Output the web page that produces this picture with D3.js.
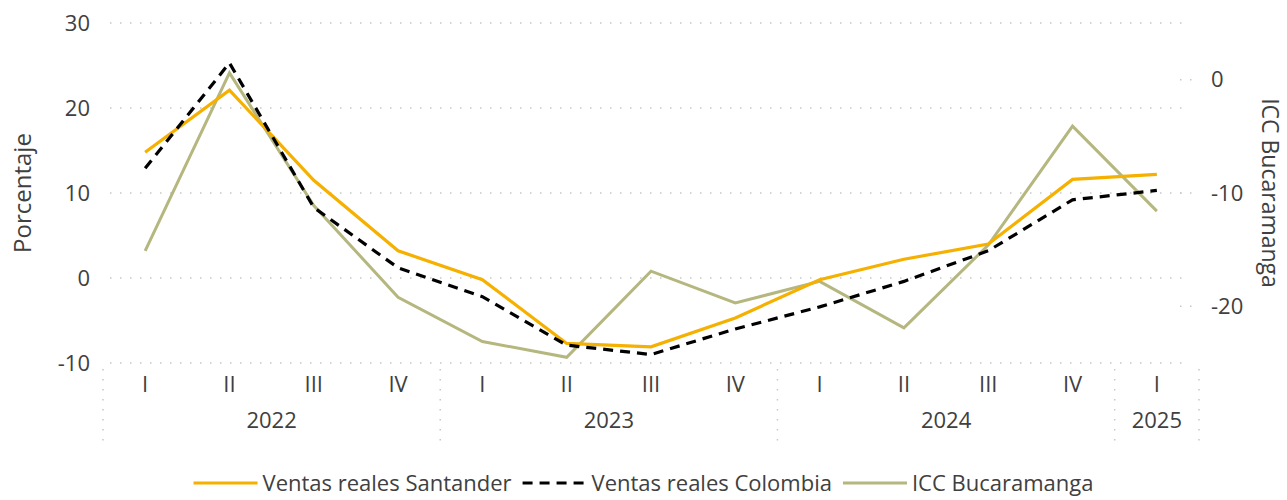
<!DOCTYPE html>
<html>
<head>
<meta charset="utf-8">
<script src="https://cdn.jsdelivr.net/npm/d3@7"></script>
<style>
  html, body { margin: 0; padding: 0; background: #ffffff; }
  svg { display: block; font-family: "Open Sans", "Noto Sans", sans-serif; }
</style>
</head>
<body>
<svg id="chart" width="1287" height="500"></svg>
<script>
// ---- Data ----
const quarters = ["I", "II", "III", "IV", "I", "II", "III", "IV", "I", "II", "III", "IV", "I"];
const years = ["2022", "2022", "2022", "2022", "2023", "2023", "2023", "2023", "2024", "2024", "2024", "2024", "2025"];
const santander = [14.8, 22.1, 11.5, 3.2, -0.2, -7.7, -8.1, -4.7, -0.2, 2.2, 4.0, 11.6, 12.2];
const colombia = [12.9, 25.3, 8.3, 1.2, -2.2, -7.9, -9.0, -6.0, -3.4, -0.4, 3.2, 9.2, 10.3];
const icc = [-15.1, 0.6, -11.1, -19.2, -23.1, -24.5, -16.9, -19.7, -17.8, -21.9, -14.6, -4.1, -11.6];
const leftTicks = [-10, 0, 10, 20, 30];
const rightTicks = [-20, -10, 0];
const seriesNames = ["Ventas reales Santander", "Ventas reales Colombia", "ICC Bucaramanga"];
const leftTitle = "Porcentaje";
const rightTitle = "ICC Bucaramanga";

// ---- Layout ----
const W = 1287, H = 500;
const plot = { left: 103, right: 1199, top: 23, bottom: 363 };
const textColor = "#404040";
const gridColor = "#c8c8c8";
const colors = { santander: "#F5B000", colombia: "#000000", icc: "#B5B77F" };

const svg = d3.select("#chart");
svg.append("rect").attr("width", W).attr("height", H).attr("fill", "#ffffff");

const keys = quarters.map((q, i) => years[i] + "-" + q);
const x = d3.scaleBand().domain(keys).range([plot.left, plot.right]).padding(0);
const cx = (i) => x(keys[i]) + x.bandwidth() / 2;
const yL = d3.scaleLinear().domain([-10, 30]).range([plot.bottom, plot.top]);
const yR = d3.scaleLinear().domain([-25, 5]).range([plot.bottom, plot.top]);
const fmt = d => String(d);

// gridlines (left axis)
svg.append("g").selectAll("line").data(leftTicks).join("line")
  .attr("x1", plot.left + 7).attr("x2", plot.right - 16)
  .attr("y1", d => yL(d)).attr("y2", d => yL(d))
  .attr("stroke", gridColor).attr("stroke-width", 1.5)
  .attr("stroke-dasharray", "1.5,8.5");

// short right-axis tick marks
svg.append("g").selectAll("line").data(rightTicks).join("line")
  .attr("x1", plot.right - 19).attr("x2", plot.right - 4)
  .attr("y1", d => yR(d)).attr("y2", d => yR(d))
  .attr("stroke", gridColor).attr("stroke-width", 1.5)
  .attr("stroke-dasharray", "1.5,8.5");

// left axis labels
const leftAxis = d3.axisLeft(yL).tickValues(leftTicks).tickFormat(fmt).tickSize(0).tickPadding(0);
const gL = svg.append("g").attr("transform", `translate(90,0)`).call(leftAxis);
gL.select(".domain").remove();
gL.selectAll("text").attr("font-size", 22).attr("fill", textColor)
  .attr("font-family", "'Open Sans', sans-serif");

// right axis labels
const rightAxis = d3.axisRight(yR).tickValues(rightTicks).tickFormat(fmt).tickSize(0).tickPadding(0);
const gR = svg.append("g").attr("transform", `translate(1211,0)`).call(rightAxis);
gR.select(".domain").remove();
gR.selectAll("text").attr("font-size", 22).attr("fill", textColor)
  .attr("font-family", "'Open Sans', sans-serif");

// x axis: quarter labels
const xAxis = d3.axisBottom(x).tickSize(0).tickPadding(0).tickFormat((d, i) => quarters[i]);
const gX = svg.append("g").attr("transform", `translate(0,${plot.bottom + 13})`).call(xAxis);
gX.select(".domain").remove();
gX.selectAll("text").attr("font-size", 22).attr("fill", textColor)
  .attr("font-family", "'Open Sans', sans-serif");

// year groups
const yearNames = Array.from(new Set(years));
const groups = yearNames.map(yr => {
  const idx = years.map((v, i) => v === yr ? i : -1).filter(i => i >= 0);
  return { year: yr, x0: x(keys[idx[0]]), x1: x(keys[idx[idx.length - 1]]) + x.bandwidth() };
});
const seps = [groups[0].x0].concat(groups.map(g => g.x1));
svg.append("g").selectAll("line").data(seps).join("line")
  .attr("x1", d => d).attr("x2", d => d)
  .attr("y1", plot.bottom + 6).attr("y2", plot.bottom + 78)
  .attr("stroke", gridColor).attr("stroke-width", 1.5)
  .attr("stroke-dasharray", "1.5,8.5");
svg.append("g").selectAll("text").data(groups).join("text")
  .attr("x", d => (d.x0 + d.x1) / 2).attr("y", 428)
  .attr("text-anchor", "middle").attr("font-size", 22).attr("fill", textColor)
  .text(d => d.year);

// axis titles
svg.append("text")
  .attr("transform", `translate(31,${(plot.top + plot.bottom) / 2}) rotate(-90)`)
  .attr("text-anchor", "middle").attr("font-size", 24).attr("fill", textColor)
  .text(leftTitle);
svg.append("text")
  .attr("transform", `translate(1262,${(plot.top + plot.bottom) / 2}) rotate(90)`)
  .attr("text-anchor", "middle").attr("font-size", 23).attr("fill", textColor)
  .text(rightTitle);

// lines
const lineL = d3.line().x((d, i) => cx(i)).y(d => yL(d));
const lineR = d3.line().x((d, i) => cx(i)).y(d => yR(d));

svg.append("path").datum(icc).attr("d", lineR)
  .attr("fill", "none").attr("stroke", colors.icc).attr("stroke-width", 3);
svg.append("path").datum(santander).attr("d", lineL)
  .attr("fill", "none").attr("stroke", colors.santander).attr("stroke-width", 3.2);
svg.append("path").datum(colombia).attr("d", lineL)
  .attr("fill", "none").attr("stroke", colors.colombia).attr("stroke-width", 3.2)
  .attr("stroke-dasharray", "10,7");

// legend
const legendItems = [
  { name: seriesNames[0], color: colors.santander, dash: null },
  { name: seriesNames[1], color: colors.colombia, dash: "10,7" },
  { name: seriesNames[2], color: colors.icc, dash: null }
];
const legY = 483, swatch = 64, gap1 = 5, gap2 = 11;
const leg = svg.append("g");
const items = leg.selectAll("g").data(legendItems).join("g");
items.append("line")
  .attr("x1", 0).attr("x2", swatch).attr("y1", 0).attr("y2", 0)
  .attr("stroke", d => d.color).attr("stroke-width", 3.2)
  .attr("stroke-dasharray", d => d.dash);
items.append("text")
  .attr("x", swatch + gap1).attr("y", 0).attr("dy", "0.35em")
  .attr("font-size", 22).attr("fill", textColor)
  .text(d => d.name);
let widths = [];
items.each(function () { widths.push(swatch + gap1 + d3.select(this).select("text").node().getComputedTextLength()); });
const total = d3.sum(widths) + gap2 * (widths.length - 1);
let cur = W / 2 - total / 2;
items.attr("transform", (d, i) => {
  const t = `translate(${cur},${legY})`;
  cur += widths[i] + gap2;
  return t;
});
</script>
</body>
</html>
